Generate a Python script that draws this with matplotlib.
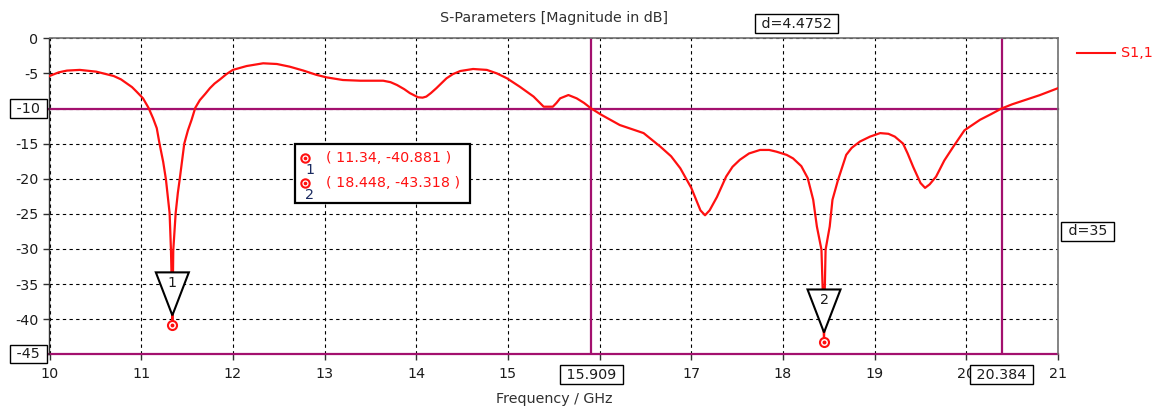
import matplotlib
matplotlib.use("Agg")
import matplotlib.pyplot as plt
import matplotlib.transforms as mtransforms
from matplotlib.patches import Polygon, Rectangle
from matplotlib.lines import Line2D

# ---------------- data ----------------
freq = [10.00, 10.10, 10.19, 10.33, 10.51, 10.70, 10.78, 10.84, 10.90, 10.95, 11.02, 11.08, 11.13,
        11.17, 11.20, 11.24, 11.27, 11.31, 11.325, 11.335, 11.34, 11.345, 11.35, 11.376,
        11.40, 11.42, 11.47, 11.51, 11.55, 11.59, 11.64, 11.70, 11.75, 11.80, 11.86, 11.93, 12.00, 12.15,
        12.33, 12.48, 12.62, 12.77, 12.91, 13.02, 13.20, 13.39, 13.64, 13.72, 13.79,
        13.87, 13.93, 14.02, 14.07, 14.11, 14.16, 14.22, 14.33, 14.40, 14.48, 14.62, 14.77, 14.88, 14.99, 15.13,
        15.28, 15.39, 15.49, 15.53, 15.57, 15.66, 15.75, 15.83, 15.909, 16.02, 16.22, 16.48,
        16.66, 16.78, 16.88, 17.00, 17.10, 17.15, 17.20, 17.28, 17.38, 17.45, 17.53, 17.63, 17.75, 17.85, 17.93, 18.04, 18.11,
        18.20, 18.27, 18.33, 18.37, 18.42, 18.435, 18.448, 18.455, 18.465, 18.51, 18.54,
        18.60, 18.69, 18.75, 18.84, 18.95, 19.06, 19.15, 19.22, 19.31, 19.36, 19.42, 19.50, 19.55, 19.60, 19.67, 19.76, 19.86,
        19.98, 20.15, 20.27, 20.384, 20.50, 20.64, 20.80, 21.00]
s11 = [-5.37, -4.85, -4.6, -4.5, -4.75, -5.37, -5.85, -6.4, -6.95, -7.6, -8.55, -9.9, -11.4,
       -12.8, -15.0, -17.6, -20.1, -24.9, -30.2, -36.0, -40.881, -36.0, -30.2, -24.9,
       -22.0, -20.1, -15.0, -13.1, -11.6, -9.9, -8.8, -7.9, -7.1, -6.45, -5.85, -5.1, -4.5, -3.95,
       -3.56, -3.66, -4.04, -4.6, -5.2, -5.56, -5.94, -6.04, -6.04, -6.25, -6.65,
       -7.25, -7.8, -8.4, -8.45, -8.3, -7.8, -7.1, -5.7, -5.1, -4.66, -4.37, -4.5, -5.0, -5.7, -6.9,
       -8.3, -9.74, -9.74, -9.2, -8.55, -8.08, -8.55, -9.2, -10.0, -10.9, -12.35, -13.5,
       -15.4, -16.8, -18.5, -21.3, -24.5, -25.2, -24.5, -22.6, -19.7, -18.3, -17.3, -16.4, -15.9, -15.9, -16.15, -16.6, -17.1,
       -18.2, -19.9, -23.0, -26.8, -30.1, -36.5, -43.318, -36.5, -30.1, -26.8, -23.0,
       -20.2, -16.6, -15.6, -14.7, -14.0, -13.5, -13.6, -14.0, -15.0, -16.4, -18.3, -20.6, -21.3, -20.8, -19.7, -17.4, -15.4,
       -13.1, -11.6, -10.8, -10.0, -9.4, -8.8, -8.1, -7.1]

marker_ids = ["1", "2"]
marker_freq = [11.34, 18.448]
marker_val = [-40.881, -43.318]
marker_labels = ["( 11.34, -40.881 )", "( 18.448, -43.318 )"]

vline_x = [15.909, 20.384]
vline_labels = ["15.909", "20.384"]
hline_y = [-10, -45]
hline_labels = ["-10", "-45"]
d_x_label = "d=4.4752"
d_y_label = "d=35"

xticks = list(range(10, 22))
xtick_hidden = [16]
yticks = list(range(-45, 1, 5))
series_name = "S1,1"

# ---------------- style ----------------
W, H = 1165, 411
FONT = "DejaVu Sans"
FS = 10.3
RED = "#ff1010"
PURPLE = "#a3106e"
TXT = "#1c1c1c"
plt.rcParams["font.family"] = [FONT]

fig = plt.figure(figsize=(W / 100, H / 100), dpi=100)
L, R, T, B = 49.5, 1058.0, 38.3, 354.3
ax = fig.add_axes([L / W, 1 - B / H, (R - L) / W, (B - T) / H])


def fx(px):
    return px / W


def fy(py):
    return 1 - py / H


ax.set_xlim(10, 21)
ax.set_ylim(-45, 0)
ax.set_xticks(xticks)
ax.set_yticks(yticks)
ax.set_xticklabels([("" if t in xtick_hidden else str(t)) for t in xticks])
ax.set_yticklabels([("" if t in hline_y else str(t)) for t in yticks])
ax.tick_params(axis="both", direction="out", length=4, width=1, color="#303030",
               labelsize=FS, labelcolor=TXT, pad=4)
ax.tick_params(axis="x", pad=5)
ax.grid(True, color="black", linestyle=(0, (3, 3)), linewidth=0.8)
ax.set_axisbelow(True)

ax.spines["bottom"].set_visible(False)
ax.spines["left"].set_color("#303030")
ax.spines["left"].set_linewidth(1.0)
ax.spines["top"].set_color("#707070")
ax.spines["right"].set_color("#707070")
ax.spines["top"].set_linewidth(1.2)
ax.spines["right"].set_linewidth(1.2)

# marker lines
for y in hline_y:
    ax.axhline(y, color=PURPLE, linewidth=1.6, zorder=2.2, clip_on=False)
for x in vline_x:
    ax.axvline(x, color=PURPLE, linewidth=1.6, zorder=2.2)

# curve
ax.plot(freq, s11, color=RED, linewidth=1.6, zorder=3)

# markers (circles) and triangles
for mid, mx, my in zip(marker_ids, marker_freq, marker_val):
    tr = fig.dpi_scale_trans + mtransforms.ScaledTranslation(mx, my, ax.transData)
    tri = Polygon([(0, 0.10), (-0.165, 0.53), (0.165, 0.53)], closed=True,
                  facecolor="white", edgecolor="black", linewidth=1.5,
                  transform=tr, zorder=5, clip_on=False)
    ax.add_patch(tri)
    ax.text(0, 0.42, mid, transform=tr, ha="center", va="center",
            fontsize=FS, color=TXT, zorder=6)
    ax.plot([mx], [my], marker="o", markersize=6.5, markerfacecolor="white",
            markeredgecolor=RED, markeredgewidth=1.5, zorder=6, clip_on=False)
    ax.plot([mx], [my], marker="o", markersize=1.8, color=RED, zorder=7, clip_on=False)

# boxed axis labels for marker lines
box = dict(boxstyle="square,pad=0.15", facecolor="white", edgecolor="black", linewidth=1.0)
ytr = mtransforms.blended_transform_factory(ax.transAxes, ax.transData)
for y, lab in zip(hline_y, hline_labels):
    ax.text(-0.005, y, " " + lab + " ", transform=ytr, ha="right", va="center",
            fontsize=FS, color=TXT, bbox=box, zorder=8, clip_on=False)
xtr = mtransforms.blended_transform_factory(ax.transData, fig.transFigure)
for x, lab in zip(vline_x, vline_labels):
    ax.text(x, fy(374.5), " " + lab + " ", transform=xtr, ha="center", va="center",
            fontsize=FS, color=TXT, bbox=box, zorder=8, clip_on=False)

# distance labels
ax.text((vline_x[0] + vline_x[1]) / 2, fy(23.5), " " + d_x_label + " ", transform=xtr,
        ha="center", va="center", fontsize=FS, color=TXT, bbox=box, zorder=8, clip_on=False)
ytr2 = mtransforms.blended_transform_factory(fig.transFigure, ax.transData)
ax.text(fx(1087.5), (hline_y[0] + hline_y[1]) / 2, " " + d_y_label + " ", transform=ytr2,
        ha="center", va="center", fontsize=FS, color=TXT, bbox=box, zorder=8, clip_on=False)

# title and axis label
fig.text((L + R) / 2 / W, fy(18), "S-Parameters [Magnitude in dB]", ha="center",
         va="center", fontsize=FS, color="#303030")
fig.text((L + R) / 2 / W, fy(399), "Frequency / GHz", ha="center", va="center",
         fontsize=FS, color="#303030")

# legend
fig.add_artist(Line2D([fx(1077), fx(1115)], [fy(53.3), fy(53.3)], color=RED, linewidth=1.5))
fig.text(fx(1121.5), fy(53.3), series_name, ha="left", va="center", fontsize=FS, color=RED)

# marker info box
fig.add_artist(Rectangle((fx(295), fy(202.7)), fx(470) - fx(295), fy(144) - fy(202.7),
                         transform=fig.transFigure, facecolor="white", edgecolor="black",
                         linewidth=1.6, zorder=9))
for i, (mid, lab) in enumerate(zip(marker_ids, marker_labels)):
    yc = 158.3 + 25 * i
    fig.add_artist(Line2D([fx(305)], [fy(yc)], marker="o", markersize=6, markerfacecolor="white",
                          markeredgecolor=RED, markeredgewidth=1.5, zorder=10))
    fig.add_artist(Line2D([fx(305)], [fy(yc)], marker="o", markersize=1.6, color=RED, zorder=11))
    fig.text(fx(310), fy(yc + 12), mid, ha="center", va="center", fontsize=FS,
             color="#1a2a60", zorder=11)
    fig.text(fx(326.5), fy(yc), lab, ha="left", va="center", fontsize=FS, color=RED, zorder=11)

fig.savefig("out.png", dpi=100, facecolor="white")
